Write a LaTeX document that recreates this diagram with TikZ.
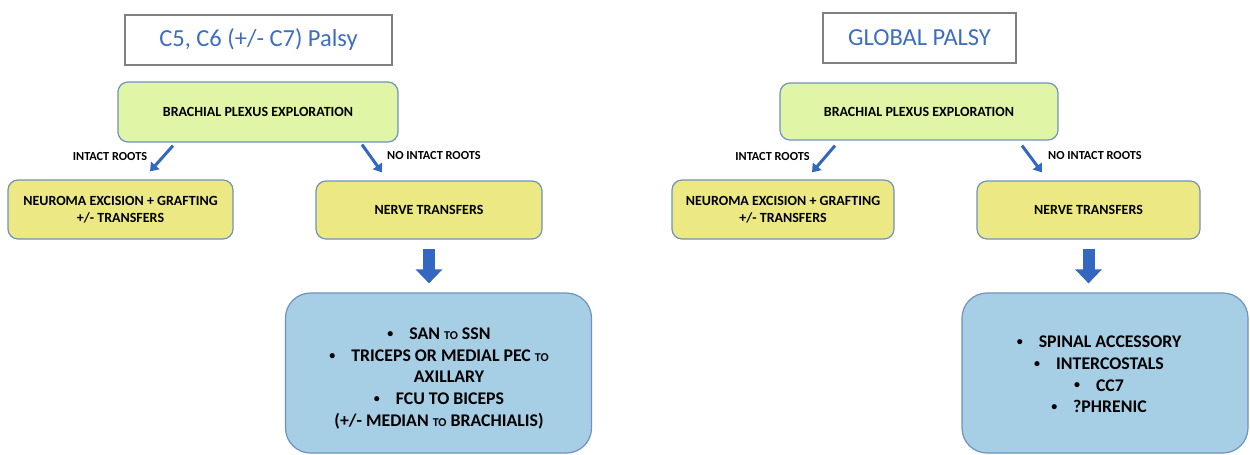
\documentclass[tikz,border=0pt]{standalone}
\usepackage{fontspec}
\setmainfont{Carlito}
\usetikzlibrary{arrows.meta,calc}
\definecolor{titleblue}{RGB}{62,110,192}
\definecolor{greenfill}{RGB}{224,246,166}
\definecolor{yellowfill}{RGB}{236,233,132}
\definecolor{bluefill}{RGB}{166,206,229}
\definecolor{boxline}{RGB}{112,146,190}
\definecolor{arrowblue}{RGB}{52,104,192}
\definecolor{titleline}{RGB}{128,128,128}
\tikzset{
  titlebox/.style={draw=titleline,line width=1.4pt,fill=white,inner sep=0pt,
    font=\fontsize{24.5}{28}\selectfont,text=titleblue},
  greenbox/.style={draw=boxline,line width=1.2pt,fill=greenfill,rounded corners=10pt,inner sep=0pt,
    font=\fontsize{14}{16.5}\selectfont\bfseries,align=center},
  yellowbox/.style={draw=boxline,line width=1.2pt,fill=yellowfill,rounded corners=10pt,inner sep=0pt,
    font=\fontsize{14}{16.5}\selectfont\bfseries,align=center},
  listbox/.style={draw=boxline,line width=1.2pt,fill=bluefill,rounded corners=25pt,inner sep=0pt},
  listtext/.style={font=\fontsize{17.8}{21.7}\selectfont\bfseries,align=center,inner sep=0pt},
  lbl/.style={font=\fontsize{12.3}{14}\selectfont\bfseries,inner sep=0pt},
  diag/.style={draw=arrowblue,line width=3pt,-{Triangle[width=11pt,length=8pt]}},
  bigarrow/.style={draw=arrowblue,line width=12pt,-{Triangle[width=26pt,length=14pt]}}
}
\newcommand{\smto}{{\fontsize{12}{12}\selectfont TO}}
\newcommand{\bul}{\raisebox{0.12em}{\fontsize{12}{12}\selectfont •}\hspace{16pt}}
\begin{document}
\begin{tikzpicture}[x=1pt,y=-1pt]
\useasboundingbox[fill=white] (0,0) rectangle (1250,455);
% ---------- left ----------
\node[titlebox,minimum width=267pt,minimum height=50pt] (t1) at (258.5,40) {C5, C6 (+/- C7) Palsy};
\node[greenbox,minimum width=280pt,minimum height=60pt] (b1) at (258,112) {BRACHIAL PLEXUS EXPLORATION};
\node[yellowbox,minimum width=225pt,minimum height=59pt] (n1) at (120.5,209.5) {NEUROMA EXCISION + GRAFTING\\+/- TRANSFERS};
\node[yellowbox,minimum width=226pt,minimum height=58pt] (nt1) at (429,210) {NERVE TRANSFERS};
\node[listbox,minimum width=306pt,minimum height=160pt] (l1) at (438.5,373) {};
\node[listtext] (l1t) at (439,378.5)
  {\bul SAN \smto{} SSN\\\bul TRICEPS OR MEDIAL PEC \smto\\\hspace*{20pt}AXILLARY\\\bul FCU TO BICEPS\\(+/- MEDIAN \smto{} BRACHIALIS)};
\node[lbl] (il1) at (110,157) {INTACT ROOTS};
\node[lbl,anchor=west] (nil1) at (387,156) {NO INTACT ROOTS};
\draw[diag] ([shift={(-85,3)}]b1.south) -- ([shift={(29.5,-8)}]n1.north);
\draw[diag] ([shift={(104,2)}]b1.south) -- ([shift={(-47,-8)}]nt1.north);
\draw[bigarrow] ([yshift=-9pt]nt1.south) -- ([yshift=9pt]nt1.south |- l1.north);
% ---------- right ----------
\node[titlebox,minimum width=193pt,minimum height=50pt] (t2) at (919.5,38) {GLOBAL PALSY};
\node[greenbox,minimum width=278pt,minimum height=57pt] (b2) at (919,111.5) {BRACHIAL PLEXUS EXPLORATION};
\node[yellowbox,minimum width=222pt,minimum height=59pt] (n2) at (783,209.5) {NEUROMA EXCISION + GRAFTING\\+/- TRANSFERS};
\node[yellowbox,minimum width=223pt,minimum height=58pt] (nt2) at (1088.5,210) {NERVE TRANSFERS};
\node[listbox,minimum width=286pt,minimum height=160pt] (l2) at (1105,373) {};
\node[listtext] (l2t) at (1099,374.5)
  {\bul SPINAL ACCESSORY\\\bul INTERCOSTALS\\\bul CC7\\\bul ?PHRENIC};
\node[lbl] (il2) at (772.5,157) {INTACT ROOTS};
\node[lbl,anchor=west] (nil2) at (1048,156) {NO INTACT ROOTS};
\draw[diag] ([shift={(-84,5)}]b2.south) -- ([shift={(29,-7)}]n2.north);
\draw[diag] ([shift={(103,5)}]b2.south) -- ([shift={(-46.5,-8)}]nt2.north);
\draw[bigarrow] ([yshift=-9pt]nt2.south) -- ([yshift=9pt]nt2.south |- l2.north);
\end{tikzpicture}
\end{document}
